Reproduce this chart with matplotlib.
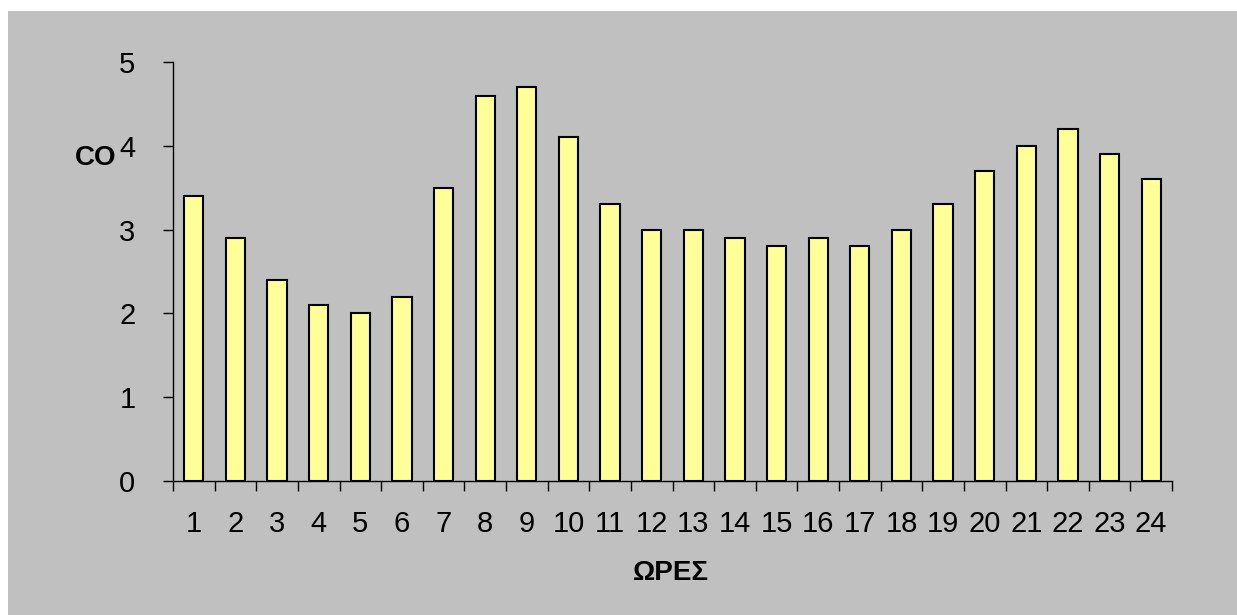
import numpy as np
import matplotlib.pyplot as plt
from matplotlib.patches import Rectangle

plt.rcParams['font.family'] = ['Liberation Sans', 'DejaVu Sans']

hours = list(range(1, 25))
co = [3.4, 2.9, 2.4, 2.1, 2.0, 2.2, 3.5, 4.6, 4.7, 4.1, 3.3, 3.0,
      3.0, 2.9, 2.8, 2.9, 2.8, 3.0, 3.3, 3.7, 4.0, 4.2, 3.9, 3.6]
yticks = [0, 1, 2, 3, 4, 5]

W, H = 1237, 615
fig = plt.figure(figsize=(W/100, H/100), dpi=100)
fig.patch.set_facecolor('white')
fig.patches.append(Rectangle((8/W, 0), 1, 1 - 11/H, transform=fig.transFigure,
                             facecolor='#c0c0c0', edgecolor='none', zorder=-10))

ax = fig.add_axes([173/W, 1 - 481/H, (1172-173)/W, (481-62)/H])
ax.patch.set_alpha(0)
ax.bar(hours, co, width=0.46, color='#ffff99', edgecolor='black', linewidth=1.5)

ax.set_xlim(0.5, 24.5)
ax.set_ylim(0, 5)
ax.set_yticks(yticks)
ax.set_xticks(np.arange(0.5, 25, 1))
ax.set_xticklabels([])
ax.set_xticks(hours, minor=True)
ax.set_xticklabels([str(h) for h in hours], minor=True)
ax.tick_params(axis='x', which='major', direction='out', length=7, width=1)
ax.tick_params(axis='x', which='minor', length=0, pad=21, labelsize=21)
ax.tick_params(axis='y', direction='out', length=7, width=1, pad=20, labelsize=21)

for s in ['top', 'right']:
    ax.spines[s].set_visible(False)
for s in ['left', 'bottom']:
    ax.spines[s].set_linewidth(1)

fig.text(96/W, 1 - 158/H, 'CO', fontsize=20, fontweight='bold', ha='center', va='center')
fig.text(671/W, 1 - 573/H, 'ΩΡΕΣ', fontsize=20, fontweight='bold', ha='center', va='center')

fig.savefig('out.png', dpi=100)
